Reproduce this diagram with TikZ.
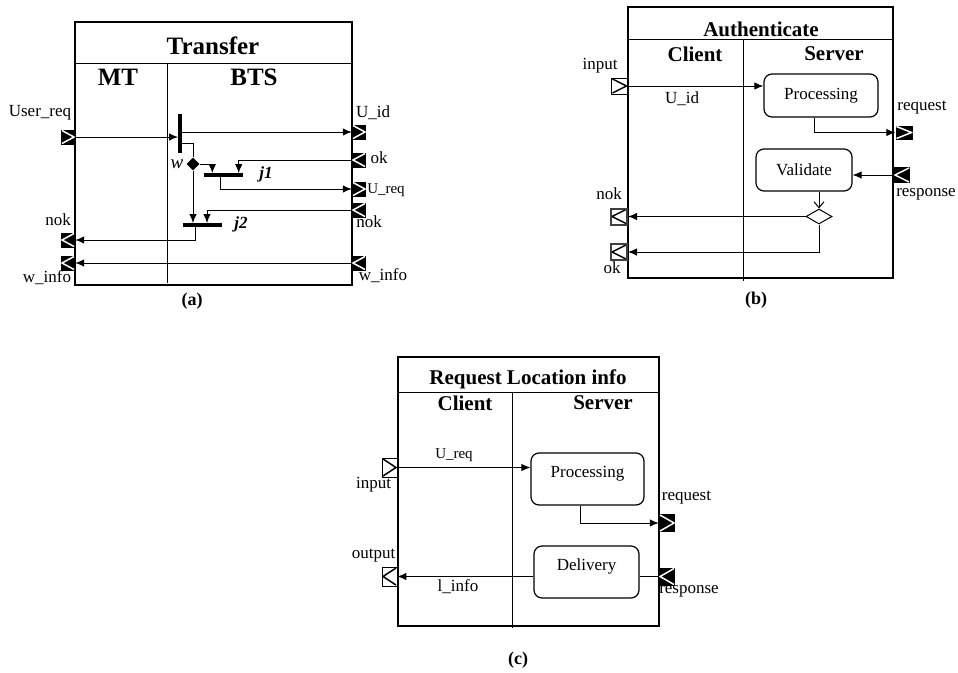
\documentclass[tikz,border=0pt]{standalone}
\usepackage{fontspec}
\setmainfont{Liberation Serif}
\usetikzlibrary{arrows.meta,shapes,positioning,calc}

\begin{document}
\begin{tikzpicture}[x=1pt,y=-1pt,
    >={Latex[length=9pt,width=7.5pt]},
    conn/.style={line width=1pt},
    frame/.style={line width=1.4pt},
    lbl/.style={inner sep=0pt,font=\fontsize{17}{19}\selectfont},
    sml/.style={inner sep=0pt,font=\fontsize{15}{17}\selectfont},
    bigttl/.style={inner sep=0pt,font=\bfseries\fontsize{25}{28}\selectfont},
    ttl/.style={inner sep=0pt,font=\bfseries\fontsize{21}{24}\selectfont},
    figcap/.style={inner sep=0pt,font=\bfseries\fontsize{18}{20}\selectfont},
    guard/.style={inner sep=0pt,font=\bfseries\itshape\fontsize{17}{19}\selectfont},
    act/.style={draw,rounded corners=8pt,line width=1.2pt,fill=white,font=\fontsize{17}{19}\selectfont},
    bar/.style={fill=black,inner sep=0pt},
    pinbox/.style={rectangle,inner sep=0pt,minimum width=14pt,minimum height=15pt},
    blkpin/.style={pinbox,fill=black},
    whtpin/.style={pinbox,draw,fill=white,line width=0.9pt},
    thkpin/.style={whtpin,draw=black!75,line width=2pt,minimum width=16pt,minimum height=16pt},
    chevR/.style={path picture={\draw[#1,line width=1.5pt]
        ([xshift=1pt,yshift=-1pt]path picture bounding box.north west)
        -- ([xshift=-1pt]path picture bounding box.east)
        -- ([xshift=1pt,yshift=1pt]path picture bounding box.south west);}},
    chevL/.style={path picture={\draw[#1,line width=1.5pt]
        ([xshift=-1pt,yshift=-1pt]path picture bounding box.north east)
        -- ([xshift=1pt]path picture bounding box.west)
        -- ([xshift=-1pt,yshift=1pt]path picture bounding box.south east);}}
  ]
    \useasboundingbox (0,0) rectangle (958,672);

    % (a) Transfer
    \draw[frame] (75,22) rectangle (352,285);
    \draw[conn] (75,63) -- (352,63);
    \draw[conn] (167,63) -- (167,283);
    \node[bigttl] (trTitle) at (213,46) {Transfer};
    \node[bigttl] (trMT) at (118,77) {MT};
    \node[bigttl] (trBTS) at (254,77) {BTS};

    % pins of Transfer
    \node[blkpin,chevR=white] (pUserReq) at (68,137) {};
    \node[blkpin,chevR=white] (pUid) at (359,132) {};
    \node[blkpin,chevL=white] (pOk) at (359,160) {};
    \node[blkpin,chevR=white] (pUreq) at (359,189) {};
    \node[blkpin,chevL=white] (pNokR) at (359,210) {};
    \node[blkpin,chevL=white] (pWinfoR) at (359,263) {};
    \node[blkpin,chevL=white] (pNokL) at (68,240) {};
    \node[blkpin,chevL=white] (pWinfoL) at (68,263) {};

    % fork, decision and joins
    \node[bar,minimum width=3.5pt,minimum height=39pt] (fork) at (180,133.5) {};
    \node[diamond,fill=black,inner sep=0pt,minimum width=13pt,minimum height=13pt] (wdec) at (193,164) {};
    \node[bar,minimum width=39pt,minimum height=3.5pt] (jone) at (223.5,175) {};
    \node[bar,minimum width=39pt,minimum height=3.5pt] (jtwo) at (202.5,225) {};

    \draw[conn,->] (pUserReq.east) -- (fork.west |- pUserReq.east);
    \draw[conn,->] (fork.east |- pUid.west) -- (pUid.west);
    \draw[conn] ([yshift=-10pt]fork.east) -| (wdec.north);
    \draw[conn,->] (wdec.east) -| ([xshift=8.5pt]jone.north west);
    \draw[conn,->] (pOk.west) -| ([xshift=-4.5pt]jone.north east);
    \draw[conn,->] ([xshift=-3.5pt]jone.south) |- (pUreq.west);
    \draw[conn,->] (wdec.south) -- (wdec.south |- jtwo.north);
    \draw[conn,->] (pNokR.west) -| ([xshift=4.5pt]jtwo.north);
    \draw[conn,->] ([xshift=-7.5pt]jtwo.south) |- (pNokL.east);
    \draw[conn,->] (pWinfoR.west) -- (pWinfoL.east);

    % labels of Transfer
    \node[lbl] (lUserReq) at (40,113) {User\_req};
    \node[lbl] (lUid) at (373,113) {U\_id};
    \node[lbl] (lOk) at (379,158) {ok};
    \node[sml] (lUreq) at (386,190) {U\_req};
    \node[lbl] (lNokR) at (369,222) {nok};
    \node[lbl] (lWinfoR) at (383,276) {w\_info};
    \node[lbl] (lNokL) at (58,220) {nok};
    \node[lbl] (lWinfoL) at (47,278) {w\_info};
    \node[inner sep=0pt,font=\itshape\fontsize{19}{21}\selectfont] (lw) at (177,164) {w};
    \node[guard] (ljone) at (266,174) {j1};
    \node[guard] (ljtwo) at (241,224) {j2};
    \node[figcap] (capA) at (192,301) {(a)};

    % (b) Authenticate
    \draw[frame] (628,7) rectangle (893,278);
    \draw[conn] (628,39) -- (893,39);
    \draw[conn] (743,39) -- (743,281);
    \node[ttl] (auTitle) at (761,29) {Authenticate};
    \node[ttl] (auClient) at (695,54) {Client};
    \node[ttl] (auServer) at (834,54) {Server};

    \node[whtpin,minimum width=16pt,minimum height=16pt,chevR=black] (pInB) at (619.5,86) {};
    \node[thkpin,chevL=black] (pNokB) at (619,216.5) {};
    \node[thkpin,chevL=black] (pOkB) at (619,252) {};
    \node[blkpin,minimum width=17pt,minimum height=14pt,chevR=white] (pReqB) at (904,132.5) {};
    \node[blkpin,minimum width=16pt,minimum height=16pt,chevL=white] (pRespB) at (902,175) {};

    \node[act,minimum width=114pt,minimum height=43pt] (procB) at (821,95.5) {Processing};
    \node[act,minimum width=96pt,minimum height=42pt] (valB) at (804,170) {Validate};
    \node[diamond,draw,fill=white,line width=1pt,inner sep=0pt,minimum width=26pt,minimum height=15pt] (decB) at (819,216.5) {};

    \draw[conn,->] (pInB.east) -- (procB.west |- pInB.east);
    \draw[conn,->] ([xshift=-7pt]procB.south) |- (pReqB.west);
    \draw[conn,->] (pRespB.west) -- (valB.east |- pRespB.west);
    \draw[conn,-{Straight Barb[length=6pt,width=10pt]}] ([xshift=15pt]valB.south) -- (decB.north);
    \draw[conn,->] (decB.west) -- (pNokB.east);
    \draw[conn,->] (decB.south) |- (pOkB.east);

    \node[lbl] (lInB) at (600,66) {input};
    \node[lbl] (lUidB) at (682,99) {U\_id};
    \node[lbl] (lReqB) at (922,108) {request};
    \node[lbl] (lRespB) at (926,194) {response};
    \node[lbl] (lNokB) at (609,194) {nok};
    \node[lbl] (lOkB) at (612,268) {ok};
    \node[figcap] (capB) at (756,300) {(b)};

    % (c) Request Location info
    \draw[frame] (398,357) rectangle (659,626);
    \draw[conn] (398,392) -- (659,392);
    \draw[conn] (512,392) -- (512,628);
    \node[ttl] (rlTitle) at (528,379) {Request Location info};
    \node[ttl] (rlClient) at (465,403) {Client};
    \node[ttl] (rlServer) at (603,403) {Server};

    \node[whtpin,minimum width=15pt,minimum height=19pt,chevR=black] (pInC) at (389.5,467.5) {};
    \node[whtpin,minimum width=15pt,minimum height=19pt,chevL=black] (pOutC) at (389.5,576.5) {};
    \node[blkpin,minimum width=16pt,minimum height=18pt,chevR=white] (pReqC) at (667,523) {};
    \node[blkpin,minimum width=16pt,minimum height=18pt,chevL=white] (pRespC) at (667,576.5) {};

    \node[act,minimum width=113pt,minimum height=52pt,text height=12pt,text depth=15pt] (procC) at (587.5,479) {Processing};
    \node[act,minimum width=105pt,minimum height=52pt,text height=12pt,text depth=15pt] (delC) at (586.5,572) {Delivery};

    \draw[conn,->] (pInC.east) -- (procC.west |- pInC.east);
    \draw[conn,->] ([xshift=-7.5pt]procC.south) |- (pReqC.west);
    \draw[conn] (pRespC.west) -- (delC.east |- pRespC.west);
    \draw[conn,->] (delC.west |- pOutC.east) -- (pOutC.east);

    \node[sml] (lUreqC) at (454,455) {U\_req};
    \node[lbl] (lInC) at (373.5,485) {input};
    \node[lbl] (lOutC) at (373.5,556) {output};
    \node[lbl] (lInfoC) at (458,587) {l\_info};
    \node[lbl] (lReqC) at (686.5,498) {request};
    \node[lbl] (lRespC) at (689,591) {response};
    \node[figcap] (capC) at (518,660) {(c)};
\end{tikzpicture}
\end{document}
